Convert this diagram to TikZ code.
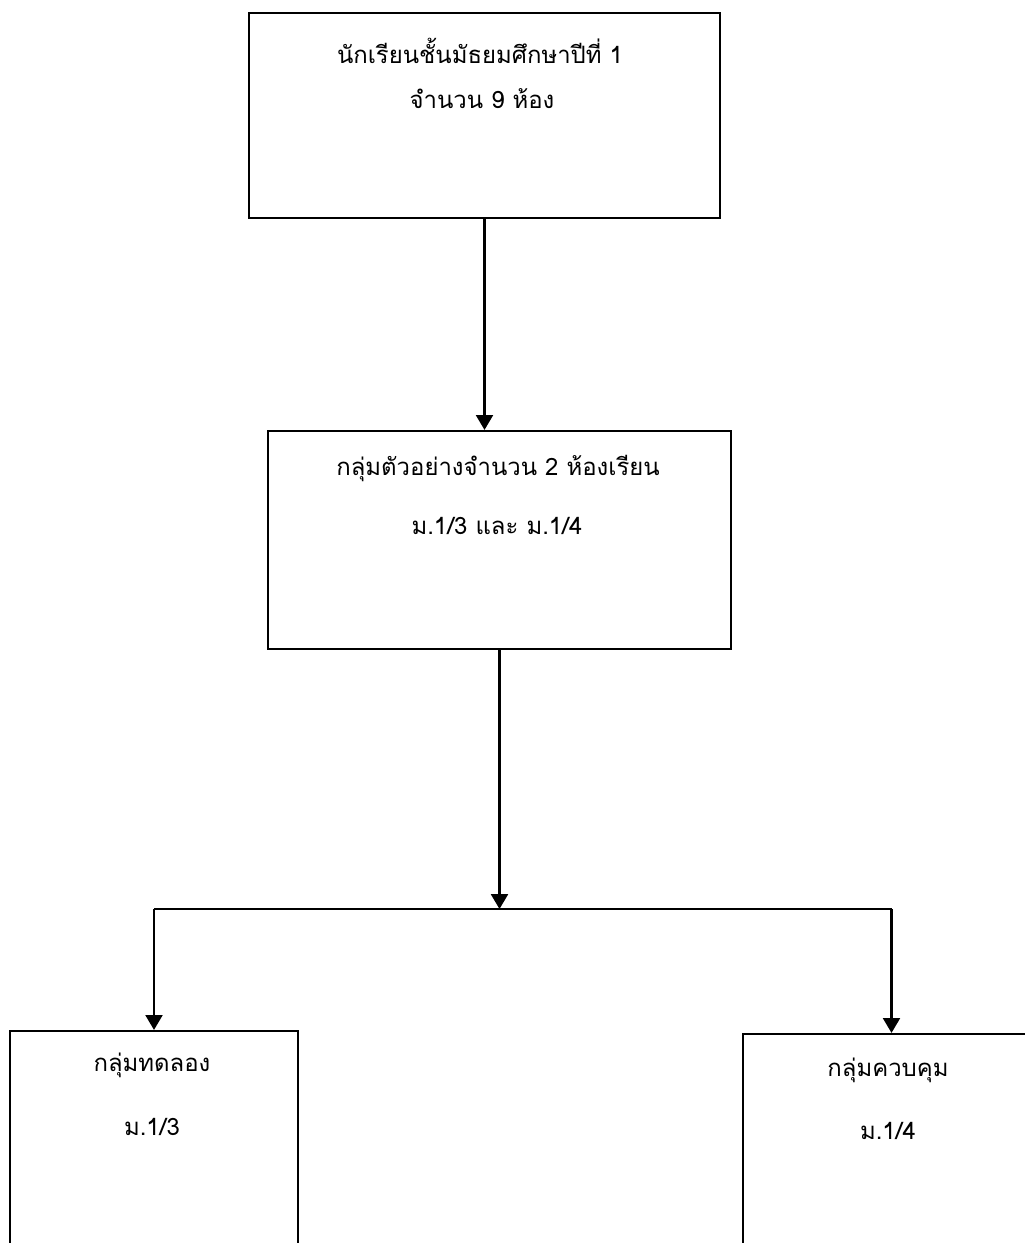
\documentclass[tikz,border=0pt]{standalone}
\usepackage{fontspec}
\newfontfamily\thaifont[Script=Thai]{Loma}
\usetikzlibrary{arrows.meta}

\tikzset{
  box/.style={draw=black, line width=1.5pt, rectangle, inner sep=0pt},
  txt/.style={font=\thaifont\fontsize{17}{20}\selectfont, inner sep=0pt},
  arr/.style={line width=1.5pt, -{Triangle[width=12pt,length=10.5pt]}}
}

\begin{document}
\begin{tikzpicture}[x=0.025cm, y=-0.025cm]
    \useasboundingbox (0,0) rectangle (1025,1243);
    \clip (0,0) rectangle (1025,1243);
    \node [box, minimum width=11.775cm, minimum height=5.125cm] (pop) at (484.5,115.5) {};
    \node [txt] (poptop) at (480,51) {นักเรียนชั้นมัธยมศึกษาปีที่ 1};
    \node [txt] (popbot) at (482,99) {จำนวน 9 ห้อง};
    \node [box, minimum width=11.575cm, minimum height=5.45cm] (sample) at (499.5,540) {};
    \node [txt] (sampletop) at (498,468) {กลุ่มตัวอย่างจำนวน 2 ห้องเรียน};
    \node [txt] (samplebot) at (497,526) {ม.1/3 และ ม.1/4};
    \node [box, minimum width=7.2cm, minimum height=5.725cm] (expgrp) at (154,1145.5) {};
    \node [txt] (exptop) at (152,1065) {กลุ่มทดลอง};
    \node [txt] (expbot) at (152,1127) {ม.1/3};
    \node [box, minimum width=7.425cm, minimum height=5.65cm] (ctlgrp) at (891.5,1147) {};
    \node [txt] (ctltop) at (888,1070) {กลุ่มควบคุม};
    \node [txt] (ctlbot) at (888,1131) {ม.1/4};
    \coordinate (split) at (502,909);
    \draw [arr] (pop.south) -- (pop.south |- sample.north);
    \draw [arr] (sample.south) -- (sample.south |- split);
    \draw [line width=1.5pt] (expgrp.north |- split) -- (ctlgrp.north |- split);
    \draw [arr] (expgrp.north |- split) -- (expgrp.north);
    \draw [arr] (ctlgrp.north |- split) -- (ctlgrp.north);
\end{tikzpicture}
\end{document}
